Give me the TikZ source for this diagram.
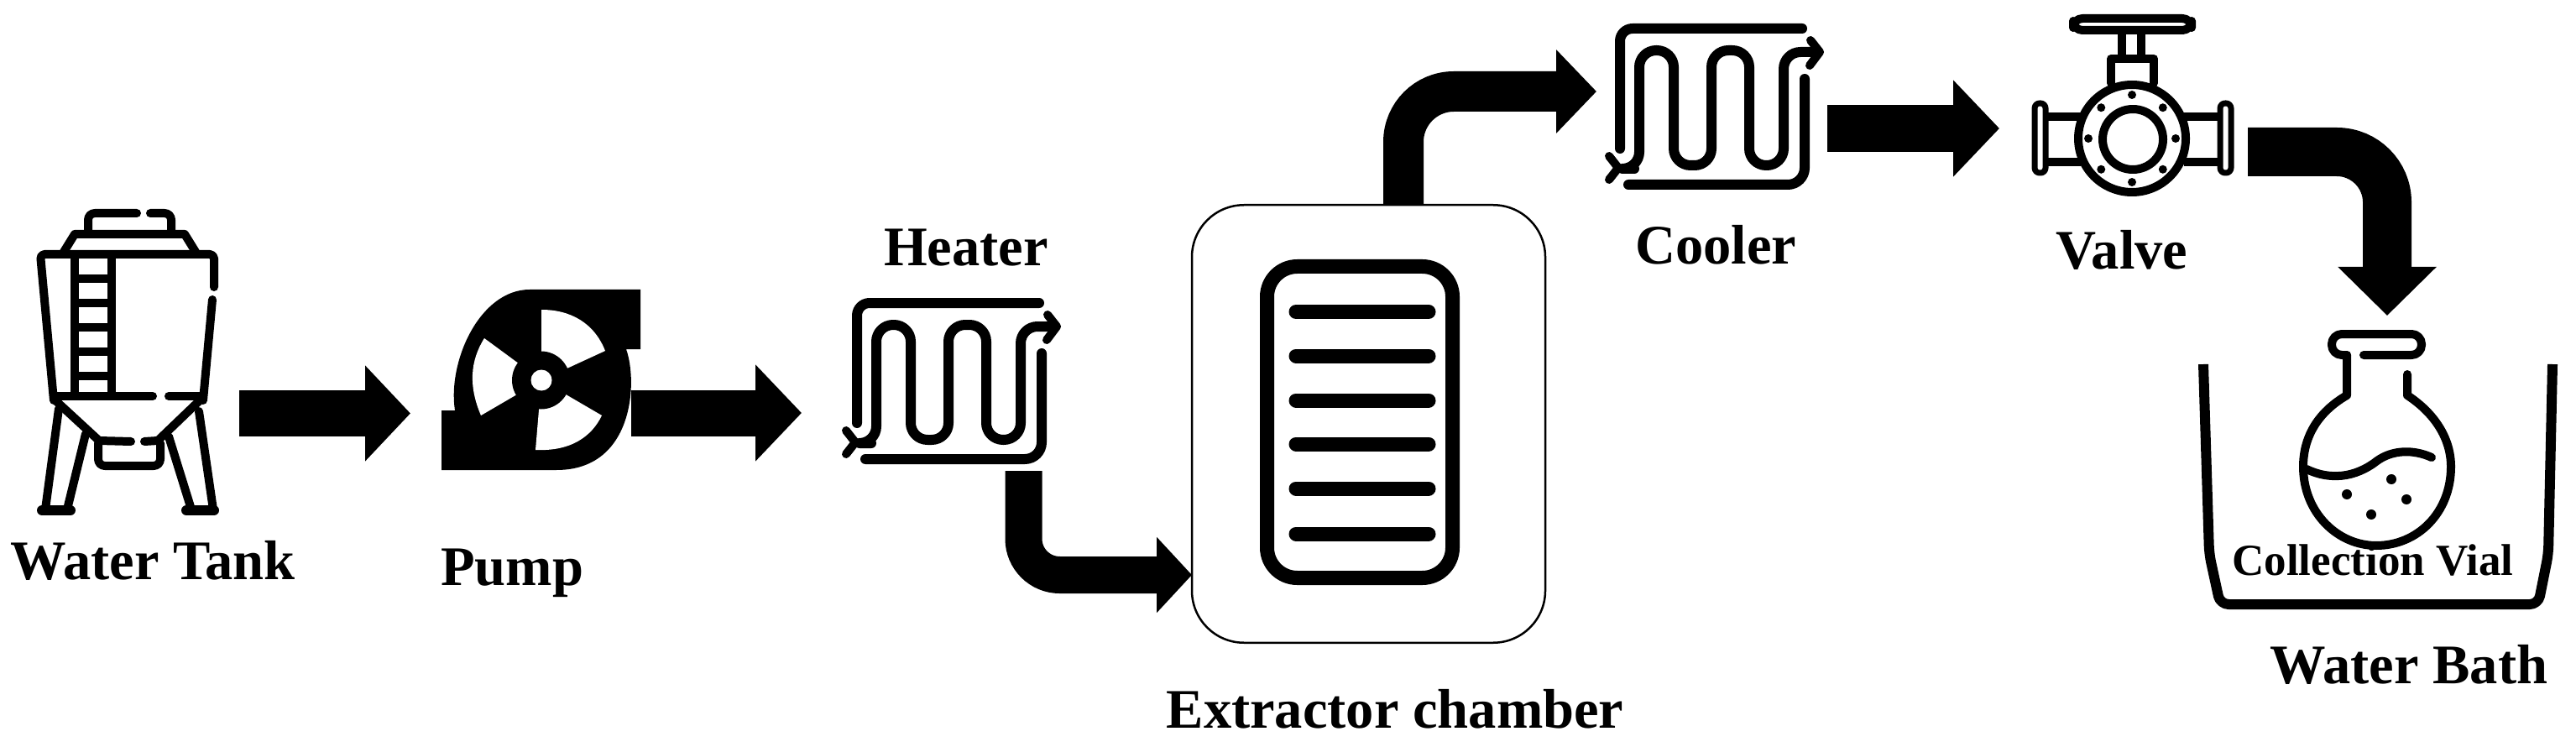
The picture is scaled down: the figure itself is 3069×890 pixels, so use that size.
\documentclass[tikz,border=0pt]{standalone}
\usepackage{fontspec}
\setmainfont{Liberation Serif}
\usetikzlibrary{arrows.meta}
\tikzset{
  icon/.style={line width=#1pt, line cap=round, line join=round},
  icon/.default=10,
  flow/.style n args={3}{line width=#1pt, -{Triangle[length=#2pt,width=#3pt]}},
  lbl/.style={inner sep=0pt, anchor=base, font=\bfseries\fontsize{66.5}{70}\selectfont},
  lblsmall/.style={inner sep=0pt, anchor=base, font=\bfseries\fontsize{53}{58}\selectfont},
  coil/.pic={
    \draw[icon=12, rounded corners=15pt] (231,0) -- (14,0) -- (14,143);
    \draw[icon=12, rounded corners=20pt] (31,167) -- (37,167) -- (37,26) -- (78,26) -- (78,163) -- (123,163)
      -- (123,26) -- (168,26) -- (168,163) -- (209,163) -- (209,28) -- (248,28);
    \draw[icon=12, rounded corners=20pt] (24,186) -- (234,186) -- (234,60);
    \draw[icon=10] (1,152) -- (12,166) -- (1,180);
    \draw[icon=10] (241,14) -- (252,28) -- (240,44);
  }
}
\begin{document}
\begin{tikzpicture}[x=1pt,y=-1pt]
  \useasboundingbox (0,0) rectangle (3069,890);

  \draw[icon, rounded corners=8pt] (163,254) -- (105,254) -- (105,275);
  \draw[icon, rounded corners=8pt] (179,254) -- (204,254) -- (204,275);
  \draw[icon] (76,300) -- (89,279) -- (220,279) -- (233,300);
  \draw[icon, rounded corners=5pt] (64,477) -- (48,303) -- (255,303) -- (255,342);
  \draw[icon] (253,357) -- (242,477);
  \draw[icon, line cap=butt] (89,303) -- (89,472);
  \draw[icon, line cap=butt] (133,303) -- (133,472);
  \foreach \y in {332,361,390,419,448}
    \draw[icon, line cap=butt] (89,\y) -- (133,\y);
  \draw[icon] (64,472) -- (182,472);
  \draw[icon] (201,472) -- (239,472);
  \draw[icon] (67,478) -- (118,525) -- (156,526);
  \draw[icon] (237,478) -- (188,525) -- (172,526);
  \draw[icon, rounded corners=8pt] (117,528) -- (117,555) -- (191,555) -- (191,528);
  \draw[icon] (70,487) -- (54,607);
  \draw[icon] (102,517) -- (80,607);
  \draw[icon] (237,490) -- (254,607);
  \draw[icon] (201,520) -- (228,607);
  \draw[icon=12] (50,608) -- (84,608);
  \draw[icon=12] (222,608) -- (255,608);

  \fill (526,560) -- (526,489) -- (542,489) .. controls (533,430) and (572,345) .. (631,345)
    -- (763,345) -- (763,416) -- (746,416) .. controls (760,455) and (755,560) .. (663,560) -- cycle;
  \fill[white] (645,369) .. controls (680,369) and (708,385) .. (721,418) -- (645,453) -- cycle;
  \fill[white] (717,495) .. controls (705,520) and (680,538) .. (638,536) -- (645,453) -- cycle;
  \fill[white] (573,495) .. controls (558,460) and (560,430) .. (577,403) -- (645,453) -- cycle;
  \fill (644.5,453) circle (34.5);
  \fill[white] (645,453) circle (12.5);

  \pic at (1007,361) {coil};
  \pic at (1916,34) {coil};

  \node[draw, line width=2.5pt, rounded corners=62pt, minimum width=421pt, minimum height=521.5pt, inner sep=0pt] (chamber) at (1630.5,505) {};
  \node[draw, line width=17pt, rounded corners=36pt, minimum width=221pt, minimum height=371pt, inner sep=0pt] (filter) at (1620,503) {};
  \foreach \y in {371.5,424,477,529,582,636}
    \draw[icon=17] (1544,\y) -- (1702,\y);

  \draw[icon, rounded corners=11pt] (2470,22) rectangle (2611,36);
  \draw[icon, line cap=butt] (2528,41) -- (2528,66);
  \draw[icon, line cap=butt] (2551,41) -- (2551,66);
  \draw[icon] (2515,99) -- (2515,70) -- (2566,70) -- (2566,99);
  \draw[icon] (2540,165) circle (64);
  \draw[icon] (2541,166) circle (36);
  \foreach \a in {0,45,...,315}
    \fill (2540,165) ++(\a:52) circle (5);
  \draw[icon, line cap=butt] (2437,139) -- (2479,139);
  \draw[icon, line cap=butt] (2437,193) -- (2479,193);
  \draw[icon, line cap=butt] (2602,139) -- (2644,139);
  \draw[icon, line cap=butt] (2602,193) -- (2644,193);
  \draw[icon=7, rounded corners=6pt] (2424,123) rectangle (2437,206);
  \draw[icon=7, rounded corners=6pt] (2645,123) rectangle (2658,206);

  \draw[icon, rounded corners=12pt] (2796,423) -- (2778,423) -- (2778,398) -- (2885,398) -- (2885,423) -- (2816,423);
  \draw[icon] (2796,423) -- (2796,471) .. controls (2760,492) and (2744,522) .. (2744,556)
    .. controls (2744,611) and (2785,650) .. (2831,650) .. controls (2880,650) and (2920,611) .. (2920,556)
    .. controls (2920,522) and (2900,492) .. (2868,471) -- (2868,446);
  \draw[icon] (2748,559) .. controls (2775,572) and (2805,570) .. (2832,549) .. controls (2850,536) and (2875,535) .. (2897,545);
  \fill (2849,571) circle (6) (2796,589) circle (6) (2867,595) circle (6) (2825,613) circle (6);

  \draw[icon=12, line cap=butt, rounded corners=10pt] (2625,434) -- (2632,660) -- (2645,720) -- (3024,720) -- (3036,660) -- (3041,434);

  \coordinate (tankout) at (285,492.5);
  \coordinate (pumpin) at (489,492.5);
  \coordinate (pumpout) at (752,492);
  \coordinate (heaterin) at (955,492);
  \coordinate (heaterout) at (1219.5,561);
  \coordinate (chamberin) at (1420,685);
  \coordinate (chamberout) at (1672,244.5);
  \coordinate (coolerin) at (1902,109);
  \coordinate (coolerout) at (2177,153);
  \coordinate (valvein) at (2382,153);
  \coordinate (valveout) at (2678,181);
  \coordinate (vialin) at (2844,376);

  \draw[flow={55}{54}{111}] (tankout) -- (pumpin);
  \draw[flow={55}{55}{112}] (pumpout) -- (heaterin);
  \draw[flow={44}{42}{88}, rounded corners=43pt] (heaterout) |- (chamberin);
  \draw[flow={48}{48}{97}, rounded corners=60pt] (chamberout) |- (coolerin);
  \draw[flow={56}{55}{112}] (coolerout) -- (valvein);
  \draw[flow={58}{58}{114}, rounded corners=60pt] (valveout) -| (vialin);

  \node[lbl] (lbltank) at (182,690) {Water Tank};
  \node[lbl] (lblpump) at (610,697) {Pump};
  \node[lbl] (lblheater) at (1151,317) {Heater};
  \node[lbl] (lblchamber) at (1662,867) {Extractor chamber};
  \node[lbl] (lblcooler) at (2044,315) {Cooler};
  \node[lbl] (lblvalve) at (2528,321) {Valve};
  \node[lblsmall] (lblvial) at (2827,685) {Collection Vial};
  \node[lbl] (lblbath) at (2870,814.5) {Water Bath};
\end{tikzpicture}
\end{document}
